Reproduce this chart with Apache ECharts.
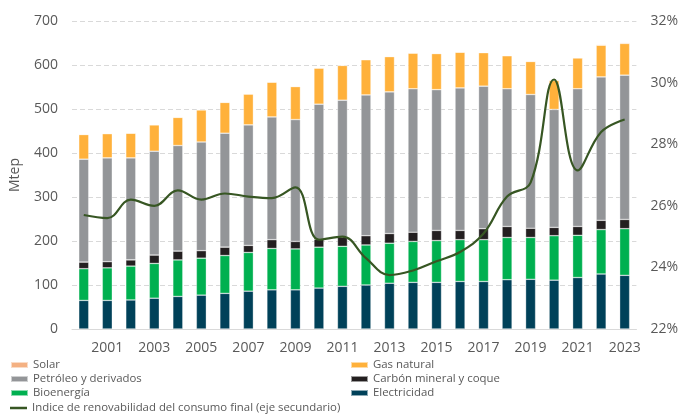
<!DOCTYPE html>
<html>
<head>
<meta charset="utf-8">
<script src="https://cdn.jsdelivr.net/npm/echarts@6/dist/echarts.min.js"></script>
<style>
  html, body { margin: 0; padding: 0; background: #fff; }
  #chart { width: 681px; height: 416px; }
</style>
</head>
<body>
<div id="chart"></div>
<script>
const years = ['2000','2001','2002','2003','2004','2005','2006','2007','2008','2009','2010','2011',
  '2012','2013','2014','2015','2016','2017','2018','2019','2020','2021','2022','2023']

// Mtep
const electricidad = [65,65,66,70,74,77,81,86,89,89,93,97,100,104,106,106,108,108,112,113,111,117,125,122]
const bioenergia = [72,74,77,79,83,84,86,88,94,93,93,91,91,91,93,95,95,95,96,95,101,96,101,106]
const carbon = [15,14,14,19,20,17,19,16,20,17,18,21,21,22,21,23,21,25,25,21,19,20,21,21]
const petroleo = [234,236,232,236,240,247,259,274,279,277,307,311,320,322,326,320,324,324,313,304,268,313,326,328]
const gasNatural = [56,55,56,60,64,73,70,70,79,75,82,79,80,80,81,82,81,76,75,75,66,70,72,72]
const solar = [0.3,0.3,0.3,0.3,0.3,0.3,0.3,0.3,0.3,0.3,0.4,0.4,0.5,0.5,0.6,0.7,0.8,0.9,1,1.1,1.2,1.4,1.6,1.8]

// % (eje secundario)
const indice = [25.7,25.6,26.2,26.0,26.5,26.2,26.4,26.3,26.25,26.6,24.9,25.0,24.3,23.75,23.9,24.2,24.5,25.1,26.3,26.75,30.1,27.15,28.4,28.8]

const leftTicks = { min: 0, max: 700, interval: 100 }
const rightTicks = { min: 22, max: 32, interval: 2 }

const font = 'Open Sans, sans-serif'
const txt = '#595959'
const lineName = 'Indice de renovabilidad del consumo final (eje secundario)'

function barSerie(name, data, color) {
  return {
    name: name,
    type: 'bar',
    stack: 'total',
    barWidth: 10,
    data: data,
    itemStyle: { color: color, borderColor: 'rgba(255,255,255,0.55)', borderWidth: 0.6 }
  }
}

// one legend box per entry, two columns
function legendItem(name, left, top, color, h) {
  return {
    left: left, top: top, padding: 0,
    itemWidth: 17, itemHeight: h || 6, itemGap: 0,
    textStyle: { color: txt, fontSize: 11.4, lineHeight: 14, fontFamily: font },
    data: [{ name: name, icon: 'rect', itemStyle: { color: color } }]
  }
}

const chart = echarts.init(document.getElementById('chart'))
chart.setOption({
  animation: false,
  textStyle: { fontFamily: font },
  grid: { left: 71, right: 43, top: 21, bottom: 87 },
  legend: [
    legendItem('Solar', 10, 358, '#f4b183'),
    legendItem('Petróleo y derivados', 10, 372, '#939598'),
    legendItem('Bioenergía', 10, 386, '#00b050'),
    legendItem(lineName, 10, 401, '#375623', 2.5),
    legendItem('Gas natural', 350, 358, '#ffb13b'),
    legendItem('Carbón mineral y coque', 350, 372, '#231f20'),
    legendItem('Electricidad', 350, 386, '#004159')
  ],
  xAxis: {
    type: 'category',
    data: years,
    axisTick: { show: false },
    axisLine: { lineStyle: { color: '#d9d9d9', width: 1 } },
    axisLabel: {
      color: txt, fontSize: 14, margin: 12,
      interval: function (i) { return i % 2 === 1 }
    }
  },
  yAxis: [
    {
      type: 'value',
      min: leftTicks.min, max: leftTicks.max, interval: leftTicks.interval,
      name: 'Mtep', nameLocation: 'middle', nameGap: 50, nameRotate: 90,
      nameTextStyle: { color: txt, fontSize: 14 },
      axisLabel: { color: txt, fontSize: 14, margin: 14 },
      splitLine: { lineStyle: { color: '#d9d9d9', type: [5, 3], width: 1 } }
    },
    {
      type: 'value',
      min: rightTicks.min, max: rightTicks.max, interval: rightTicks.interval,
      axisLabel: { color: txt, fontSize: 14, margin: 14, formatter: '{value}%' },
      splitLine: { show: false }
    }
  ],
  series: [
    barSerie('Electricidad', electricidad, '#004159'),
    barSerie('Bioenergía', bioenergia, '#00b050'),
    barSerie('Carbón mineral y coque', carbon, '#231f20'),
    barSerie('Petróleo y derivados', petroleo, '#939598'),
    barSerie('Gas natural', gasNatural, '#ffb13b'),
    barSerie('Solar', solar, '#f4b183'),
    {
      name: lineName,
      type: 'line',
      yAxisIndex: 1,
      data: indice,
      smooth: 0.4,
      symbol: 'none',
      lineStyle: { color: '#375623', width: 2.2 },
      itemStyle: { color: '#375623' }
    }
  ]
})
</script>
</body>
</html>
